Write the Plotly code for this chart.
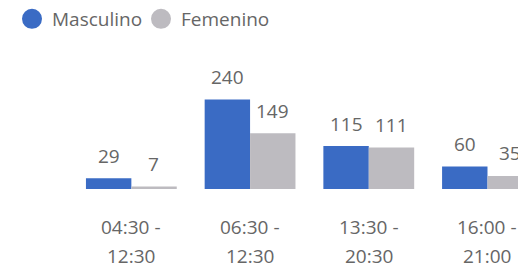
import plotly.graph_objects as go

categories = ["04:30 - 12:30", "06:30 - 12:30", "13:30 - 20:30", "16:00 - 21:00"]
series_names = ["Masculino", "Femenino"]
masculino = [29, 240, 115, 60]
femenino = [7, 149, 111, 35]

colors = ["#3A6BC4", "#BDBBC0"]
text_color = "#666666"
font_family = "Open Sans, Segoe UI, sans-serif"

idx = list(range(len(categories)))
fig = go.Figure()
for name, vals, col in zip(series_names, [masculino, femenino], colors):
    fig.add_trace(go.Bar(x=idx, y=vals, name=name, marker=dict(color=col, line=dict(width=0)),
                         showlegend=False, hoverinfo="x+y"))
# legend entries with circle symbols
for name, col in zip(series_names, colors):
    fig.add_trace(go.Scatter(x=[None], y=[None], mode="markers", name=name,
                             marker=dict(color=col, size=16, symbol="circle",
                                         line=dict(color=col, width=4))))

half = 0.19
annotations = []
for i in idx:
    for vals, sign in ((masculino, -1), (femenino, 1)):
        annotations.append(dict(x=i + sign * half, y=vals[i], xref="x", yref="y",
                                text=str(vals[i]), showarrow=False, yanchor="middle",
                                yshift=22.5, font=dict(size=19, color=text_color, family=font_family)))
    first, second = categories[i].split(" - ")
    for txt, shift in ((first + " -", -38), (second, -67)):
        annotations.append(dict(x=i, y=0, xref="x", yref="y", text=txt, showarrow=False,
                                yanchor="middle", yshift=shift,
                                font=dict(size=19, color=text_color, family=font_family)))

fig.update_layout(
    width=518, height=270,
    margin=dict(l=72, r=0, t=77, b=81),
    paper_bgcolor="white", plot_bgcolor="white",
    barmode="group", bargap=0.235, bargroupgap=0,
    font=dict(family=font_family, color=text_color, size=19),
    xaxis=dict(range=[-0.5, 3.257], showticklabels=False, showgrid=False, zeroline=False,
               showline=False, ticks=""),
    yaxis=dict(range=[0, 300], visible=False, showgrid=False, zeroline=False),
    legend=dict(orientation="h", xref="container", yref="container", x=12 / 518, y=1.0,
                xanchor="left", yanchor="top", font=dict(size=19, color=text_color),
                itemwidth=30, entrywidth=84, entrywidthmode="pixels",
                tracegroupgap=0, bgcolor="rgba(0,0,0,0)"),
    annotations=annotations,
)

fig.write_html("out.html", config={"displayModeBar": False},
               post_script="document.body.style.margin='0';")
